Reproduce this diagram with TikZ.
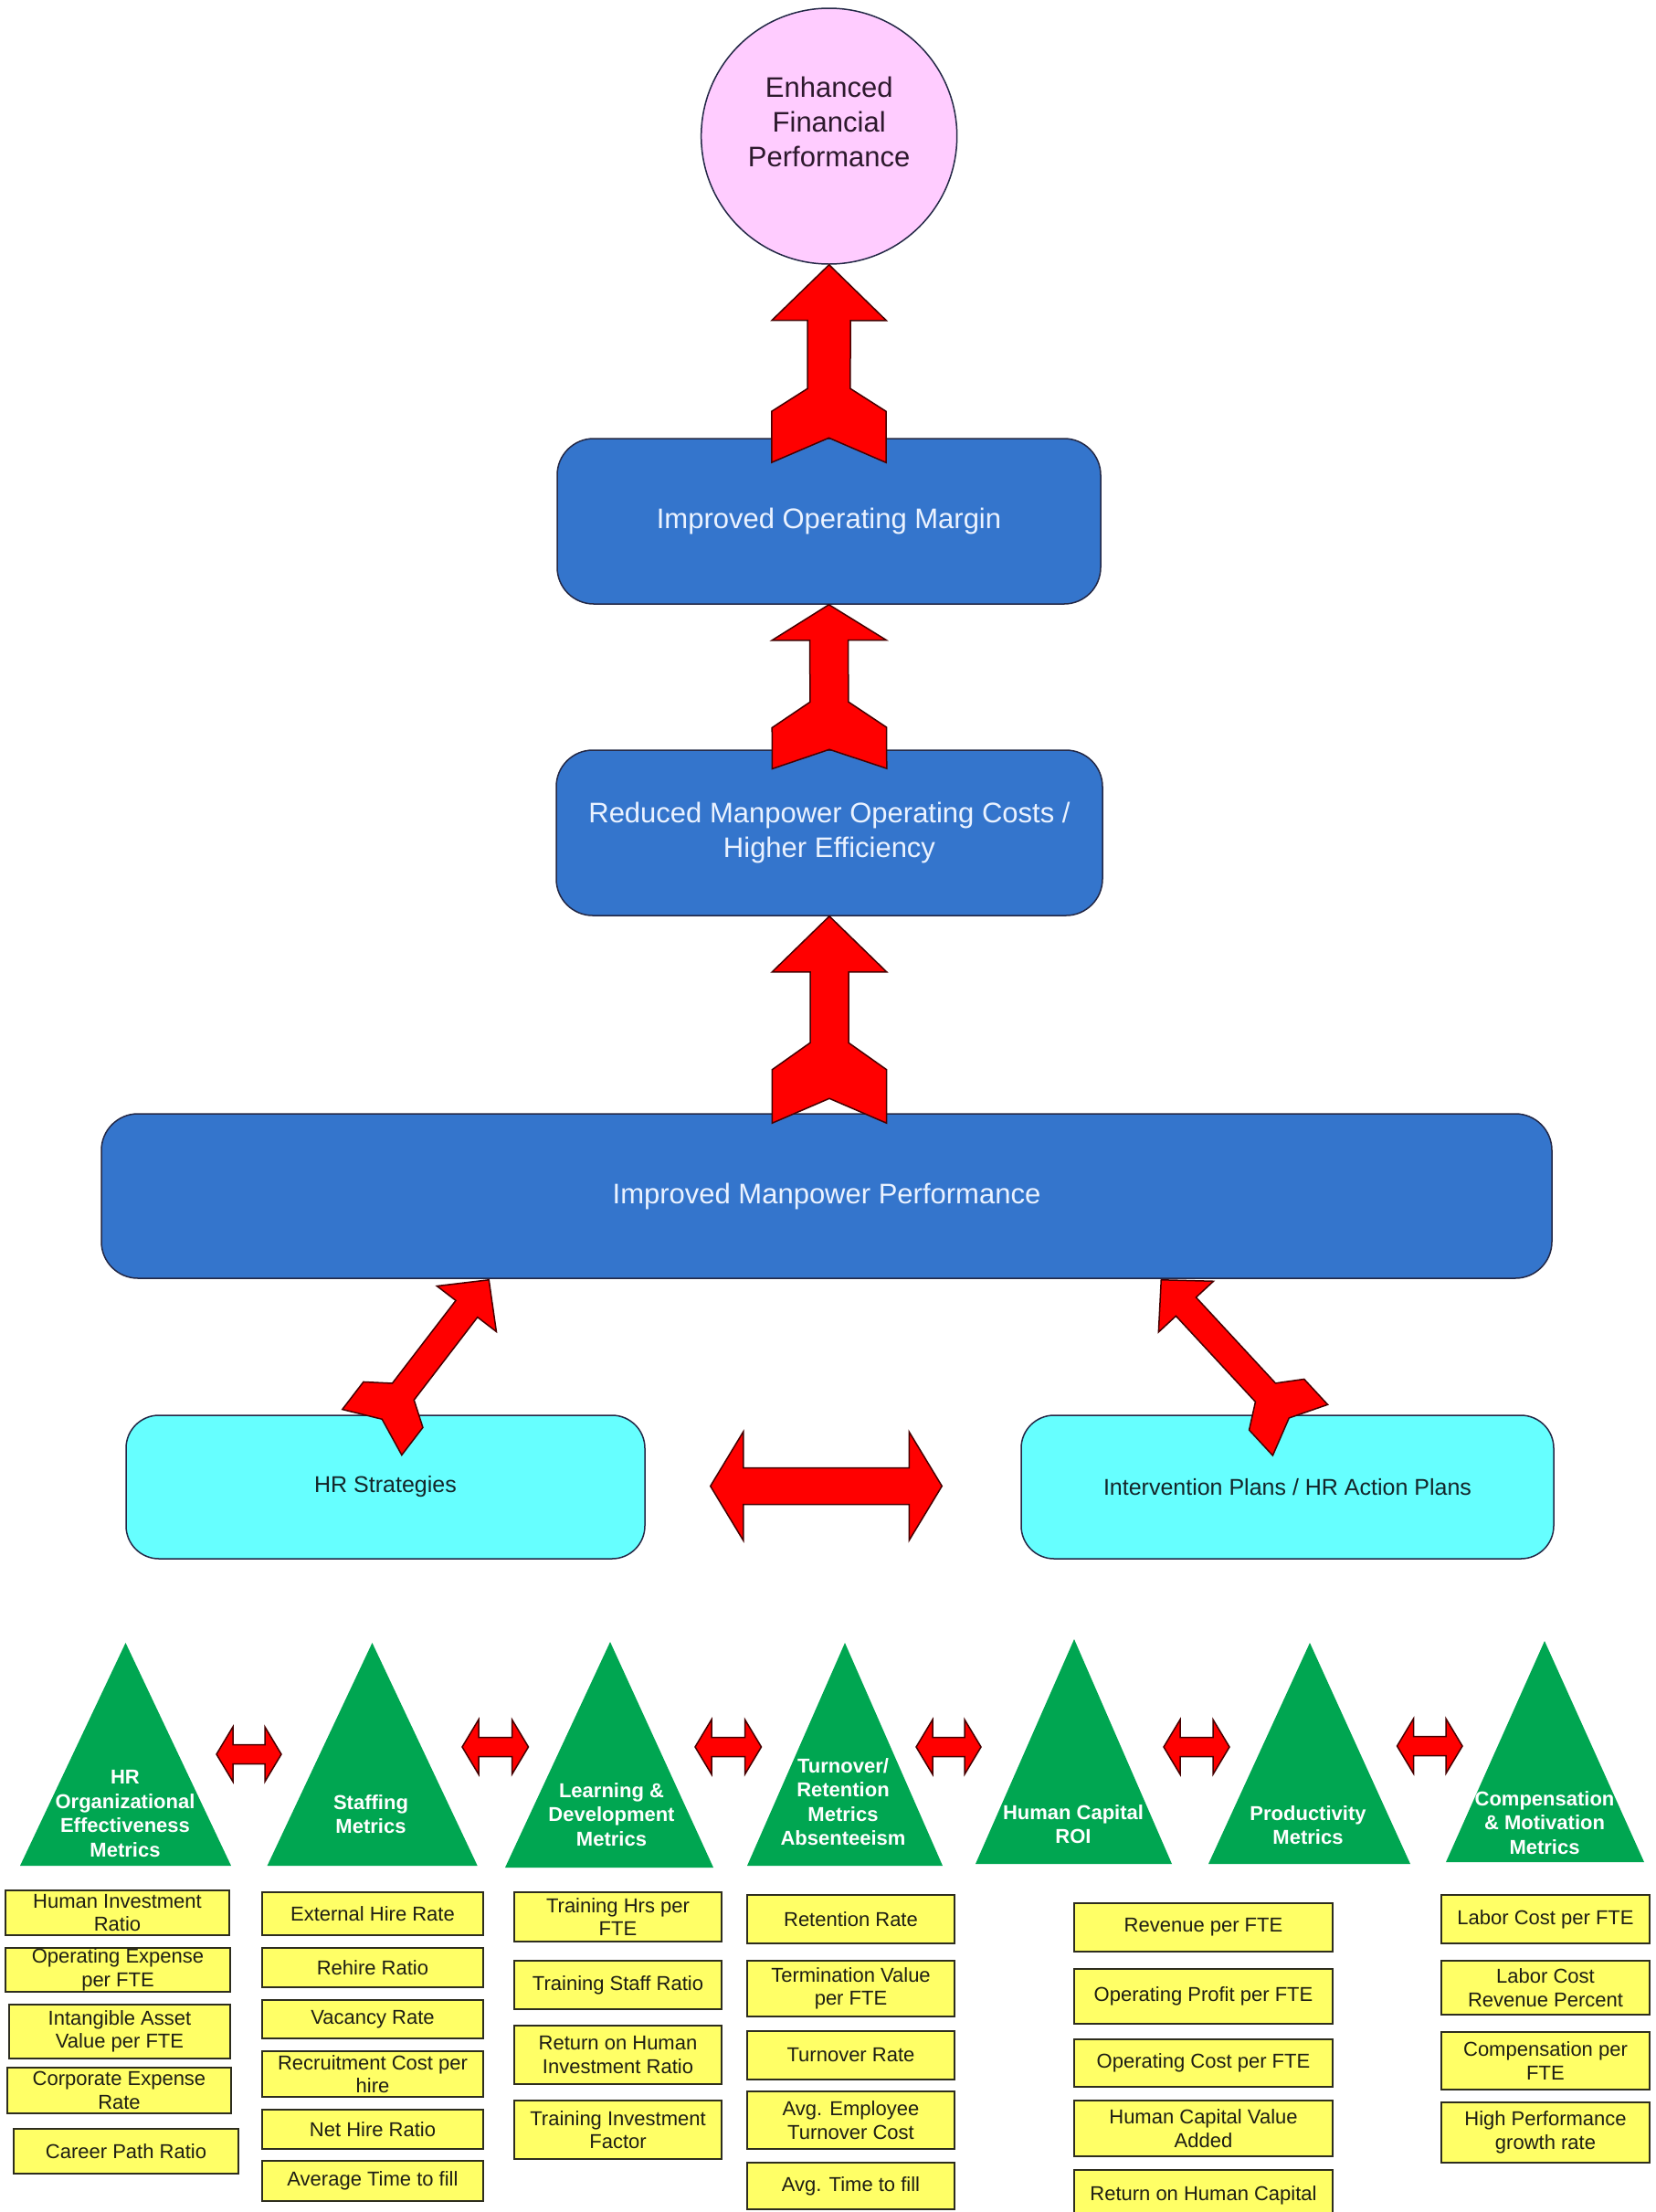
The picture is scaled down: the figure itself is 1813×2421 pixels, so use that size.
\documentclass[tikz,border=0pt]{standalone}
\usepackage{fontspec}
\setmainfont{Liberation Sans}
\usetikzlibrary{calc}
\definecolor{pinkc}{RGB}{255,204,255}
\definecolor{bluebox}{RGB}{52,117,204}
\definecolor{cyanbox}{RGB}{102,255,255}
\definecolor{greentri}{RGB}{0,166,81}
\definecolor{yellowbox}{RGB}{255,255,102}
\definecolor{redarr}{RGB}{255,0,0}
\definecolor{darkline}{RGB}{35,40,70}
\definecolor{redline}{RGB}{70,0,0}
\definecolor{bluetext}{RGB}{234,242,255}
\definecolor{cyantext}{RGB}{20,38,42}
\definecolor{ytext}{RGB}{30,30,20}
\definecolor{yline}{RGB}{45,45,30}
\definecolor{circtext}{RGB}{45,25,45}

\tikzset{
  bluenode/.style={draw=darkline, line width=1.5pt, fill=bluebox, rounded corners=40pt,
    inner sep=0pt, text=bluetext, align=center, font=\fontsize{31}{38}\selectfont},
  cyannode/.style={draw=darkline, line width=1.5pt, fill=cyanbox, rounded corners=36pt,
    inner sep=0pt, text=cyantext, align=center, font=\fontsize{25}{30}\selectfont},
  ybox/.style={draw=yline, line width=2.5pt, fill=yellowbox, inner sep=0pt,
    align=center, text=ytext, font=\fontsize{22}{25.5}\selectfont},
  tritext/.style={align=center, text=white, inner sep=0pt,
    font=\bfseries\fontsize{22}{26.5}\selectfont},
  tri/.style={fill=greentri},
  redarrow/.style={fill=redarr, draw=redline, line width=1.5pt, line join=miter},
}

% fat arrow with chevron tail: #1 tail (notch) point, #2 tip point,
% #3 head half width, #4 shaft half width, #5 head length,
% #6 notch depth, #7 feather outer start, #8 shaft end
\newcommand\fatarrow[8]{%
  \path let \p1=(#1), \p2=(#2) in \pgfextra{%
    \pgfmathsetmacro\tmpang{atan2(\y2-\y1,\x2-\x1)}%
    \pgfmathsetmacro\tmplen{veclen(\x2-\x1,\y2-\y1)}%
    \global\let\faang\tmpang \global\let\falen\tmplen};
  \begin{scope}[shift={(#1)}, rotate=\faang, x=1pt, y=1pt]
    \draw[redarrow] (0,0) -- (-#6,#3) -- (#7,#3) -- (#8,#4) -- ({\falen-#5},#4)
      -- ({\falen-#5},#3) -- (\falen,0) -- ({\falen-#5},-#3) -- ({\falen-#5},-#4)
      -- (#8,-#4) -- (#7,-#3) -- (-#6,-#3) -- cycle;
  \end{scope}}

% horizontal double arrow: #1 left tip, #2 right tip, #3 head half height,
% #4 shaft half height, #5 head length
\newcommand\dblarrow[5]{%
  \draw[redarrow] let \p1=(#1), \p2=(#2) in
    (\x1,\y1) -- ({\x1+#5pt},{\y1+#3pt}) -- ({\x1+#5pt},{\y1+#4pt})
    -- ({\x2-#5pt},{\y1+#4pt}) -- ({\x2-#5pt},{\y1+#3pt}) -- (\x2,\y1)
    -- ({\x2-#5pt},{\y1-#3pt}) -- ({\x2-#5pt},{\y1-#4pt})
    -- ({\x1+#5pt},{\y1-#4pt}) -- ({\x1+#5pt},{\y1-#3pt}) -- cycle;}

\begin{document}
\begin{tikzpicture}[x=1pt,y=-1pt]
\useasboundingbox (0,0) rectangle (1813,2421);
\fill[white] (0,0) rectangle (1813,2421);
\begin{scope}
\clip (0,0) rectangle (1813,2421);

% ---------- top circle ----------
\node[circle, draw=darkline, line width=1.5pt, fill=pinkc, minimum size=280pt, inner sep=0pt] (efp) at (907.7,149) {};
\node[align=center, text=circtext, font=\fontsize{31}{38}\selectfont, inner sep=0pt] (efpt) at ($(efp.center)+(0,-16)$) {Enhanced\\Financial\\Performance};

% ---------- blue boxes ----------
\node[bluenode, minimum width=595pt, minimum height=181pt] (iom) at (907.5,570.5) {Improved Operating Margin};
\node[bluenode, minimum width=598pt, minimum height=181pt] (rmc) at (908,911.5) {Reduced Manpower Operating Costs /\\Higher Efficiency};
\node[bluenode, minimum width=1588pt, minimum height=180pt] (imp) at (905,1309) {Improved Manpower Performance};

% ---------- cyan boxes ----------
\node[cyannode, minimum width=568pt, minimum height=157pt] (hrs) at (422,1627.5) {HR Strategies};
\node[cyannode, minimum width=583pt, minimum height=157pt] (ip) at (1409.5,1627.5) {Intervention Plans / HR Action Plans};

% ---------- vertical arrows ----------
\coordinate (a3tail) at ($(rmc.south |- imp.north)+(0,-16)$);
\fatarrow{iom.north}{efp.south}{62.7}{23.4}{61}{27}{29}{54}
\fatarrow{rmc.north}{iom.south}{62.7}{21}{39}{21}{24}{52}
\fatarrow{a3tail}{rmc.south}{62.7}{21}{61}{27}{31.5}{61}

% ---------- diagonal arrows ----------
\coordinate (dltip) at ($(imp.south west)+(425,1)$);
\coordinate (dltail) at ($(hrs.north west)+(281,5)$);
\coordinate (drtip) at ($(imp.south west)+(1161,1)$);
\coordinate (drtail) at ($(ip.north west)+(294,3.7)$);
\fatarrow{dltail}{dltip}{41}{15}{40}{18}{20}{38}
\fatarrow{drtail}{drtip}{41}{15}{40}{18}{20}{38}

% ---------- big double arrow ----------
\coordinate (bdl) at ($(hrs.east)+(71,-1)$);
\coordinate (bdr) at ($(ip.west)+(-86,-1)$);
\dblarrow{bdl}{bdr}{59.5}{20}{36}

% ---------- triangles ----------
\fill[tri] (137.5,1798) -- (253,2042) -- (22,2042) -- cycle;
\fill[tri] (407.5,1798) -- (522.7,2042) -- (292.6,2042) -- cycle;
\fill[tri] (668,1797) -- (781,2044) -- (553,2044) -- cycle;
\fill[tri] (925,1798) -- (1032,2042) -- (818,2042) -- cycle;
\fill[tri] (1176,1794) -- (1283,2040) -- (1068,2040) -- cycle;
\fill[tri] (1434,1798) -- (1544,2040) -- (1323,2040) -- cycle;
\fill[tri] (1691,1796) -- (1800,2038) -- (1583,2038) -- cycle;

\node[tritext] (t1) at (137,1985) {HR\\Organizational\\Effectiveness\\Metrics};
\node[tritext] (t2) at (406,1985.5) {Staffing\\Metrics};
\node[tritext] (t3) at (669.5,1986) {Learning \&\\Development\\Metrics};
\node[tritext] (t4) at (923,1972) {Turnover/\\Retention\\Metrics\\Absenteeism};
\node[tritext] (t5) at (1175,1996.5) {Human Capital\\ROI};
\node[tritext] (t6) at (1432,1997.5) {Productivity\\Metrics};
\node[tritext] (t7) at (1691,1995) {Compensation\\\& Motivation\\Metrics};

% ---------- small double arrows ----------
\coordinate (s1l) at (237,1920);   \coordinate (s1r) at (308,1920);
\coordinate (s2l) at (506,1912);   \coordinate (s2r) at (578.5,1912);
\coordinate (s3l) at (761,1912);   \coordinate (s3r) at (833.5,1912);
\coordinate (s4l) at (1003,1912);  \coordinate (s4r) at (1074,1912);
\coordinate (s5l) at (1274,1912);  \coordinate (s5r) at (1346,1912);
\coordinate (s6l) at (1529.5,1911);\coordinate (s6r) at (1601,1911);
\dblarrow{s1l}{s1r}{30}{10.5}{18}
\dblarrow{s2l}{s2r}{30}{10.5}{18}
\dblarrow{s3l}{s3r}{30}{10.5}{18}
\dblarrow{s4l}{s4r}{30}{10.5}{18}
\dblarrow{s5l}{s5r}{30}{10.5}{18}
\dblarrow{s6l}{s6r}{30}{10.5}{18}

% ---------- yellow boxes: column 1 ----------
\node[ybox, minimum width=245pt, minimum height=49pt] (y11) at (128.5,2093.5) {Human Investment\\Ratio};
\node[ybox, minimum width=246pt, minimum height=48pt] (y12) at (129,2156) {Operating Expense\\per FTE};
\node[ybox, minimum width=242pt, minimum height=59pt] (y13) at (131,2223.5) {Intangible Asset\\Value per FTE};
\node[ybox, minimum width=245pt, minimum height=50pt] (y14) at (130.5,2288) {Corporate Expense\\Rate};
\node[ybox, minimum width=246pt, minimum height=49pt] (y15) at (138,2354.5) {Career Path Ratio};

% column 2
\node[ybox, minimum width=242pt, minimum height=47pt] (y21) at (408,2094.5) {External Hire Rate};
\node[ybox, minimum width=242pt, minimum height=43pt] (y22) at (408,2153.5) {Rehire Ratio};
\node[ybox, minimum width=242pt, minimum height=42pt] (y23) at (408,2210) {Vacancy Rate};
\node[ybox, minimum width=242pt, minimum height=50pt] (y24) at (408,2270) {Recruitment Cost per\\hire};
\node[ybox, minimum width=242pt, minimum height=43pt] (y25) at (408,2330.5) {Net Hire Ratio};
\node[ybox, minimum width=242pt, minimum height=44pt] (y26) at (408,2387) {Average Time to fill};

% column 3
\node[ybox, minimum width=227pt, minimum height=54pt] (y31) at (676.5,2098) {Training Hrs per\\FTE};
\node[ybox, minimum width=227pt, minimum height=53pt] (y32) at (676.5,2172.5) {Training Staff Ratio};
\node[ybox, minimum width=227pt, minimum height=64pt] (y33) at (676.5,2249) {Return on Human\\Investment Ratio};
\node[ybox, minimum width=227pt, minimum height=64pt] (y34) at (676.5,2331) {Training Investment\\Factor};

% column 4
\node[ybox, minimum width=227pt, minimum height=53pt] (y41) at (931.5,2100.5) {Retention Rate};
\node[ybox, minimum width=227pt, minimum height=61pt] (y42) at (931.5,2176.5) {Termination Value\\per FTE};
\node[ybox, minimum width=227pt, minimum height=53pt] (y43) at (931.5,2249.5) {Turnover Rate};
\node[ybox, minimum width=227pt, minimum height=63pt] (y44) at (931.5,2320.5) {Avg. Employee\\Turnover Cost};
\node[ybox, minimum width=227pt, minimum height=51pt] (y45) at (931.5,2392.5) {Avg. Time to fill};

% column 5
\node[ybox, minimum width=283pt, minimum height=53pt] (y51) at (1317.5,2109.5) {Revenue per FTE};
\node[ybox, minimum width=283pt, minimum height=60pt] (y52) at (1317.5,2185) {Operating Profit per FTE};
\node[ybox, minimum width=283pt, minimum height=52pt] (y53) at (1317.5,2258) {Operating Cost per FTE};
\node[ybox, minimum width=283pt, minimum height=61pt] (y54) at (1317.5,2329.5) {Human Capital Value\\Added};
\node[ybox, minimum width=283pt, minimum height=56pt] (y55) at (1317.5,2403) {Return on Human Capital};

% column 7
\node[ybox, minimum width=228pt, minimum height=53pt] (y71) at (1692,2100.5) {Labor Cost per FTE};
\node[ybox, minimum width=228pt, minimum height=59pt] (y72) at (1692,2175.5) {Labor Cost\\Revenue Percent};
\node[ybox, minimum width=228pt, minimum height=63pt] (y73) at (1692,2255.5) {Compensation per\\FTE};
\node[ybox, minimum width=228pt, minimum height=66pt] (y74) at (1692,2334) {High Performance\\growth rate};

\end{scope}
\end{tikzpicture}
\end{document}
